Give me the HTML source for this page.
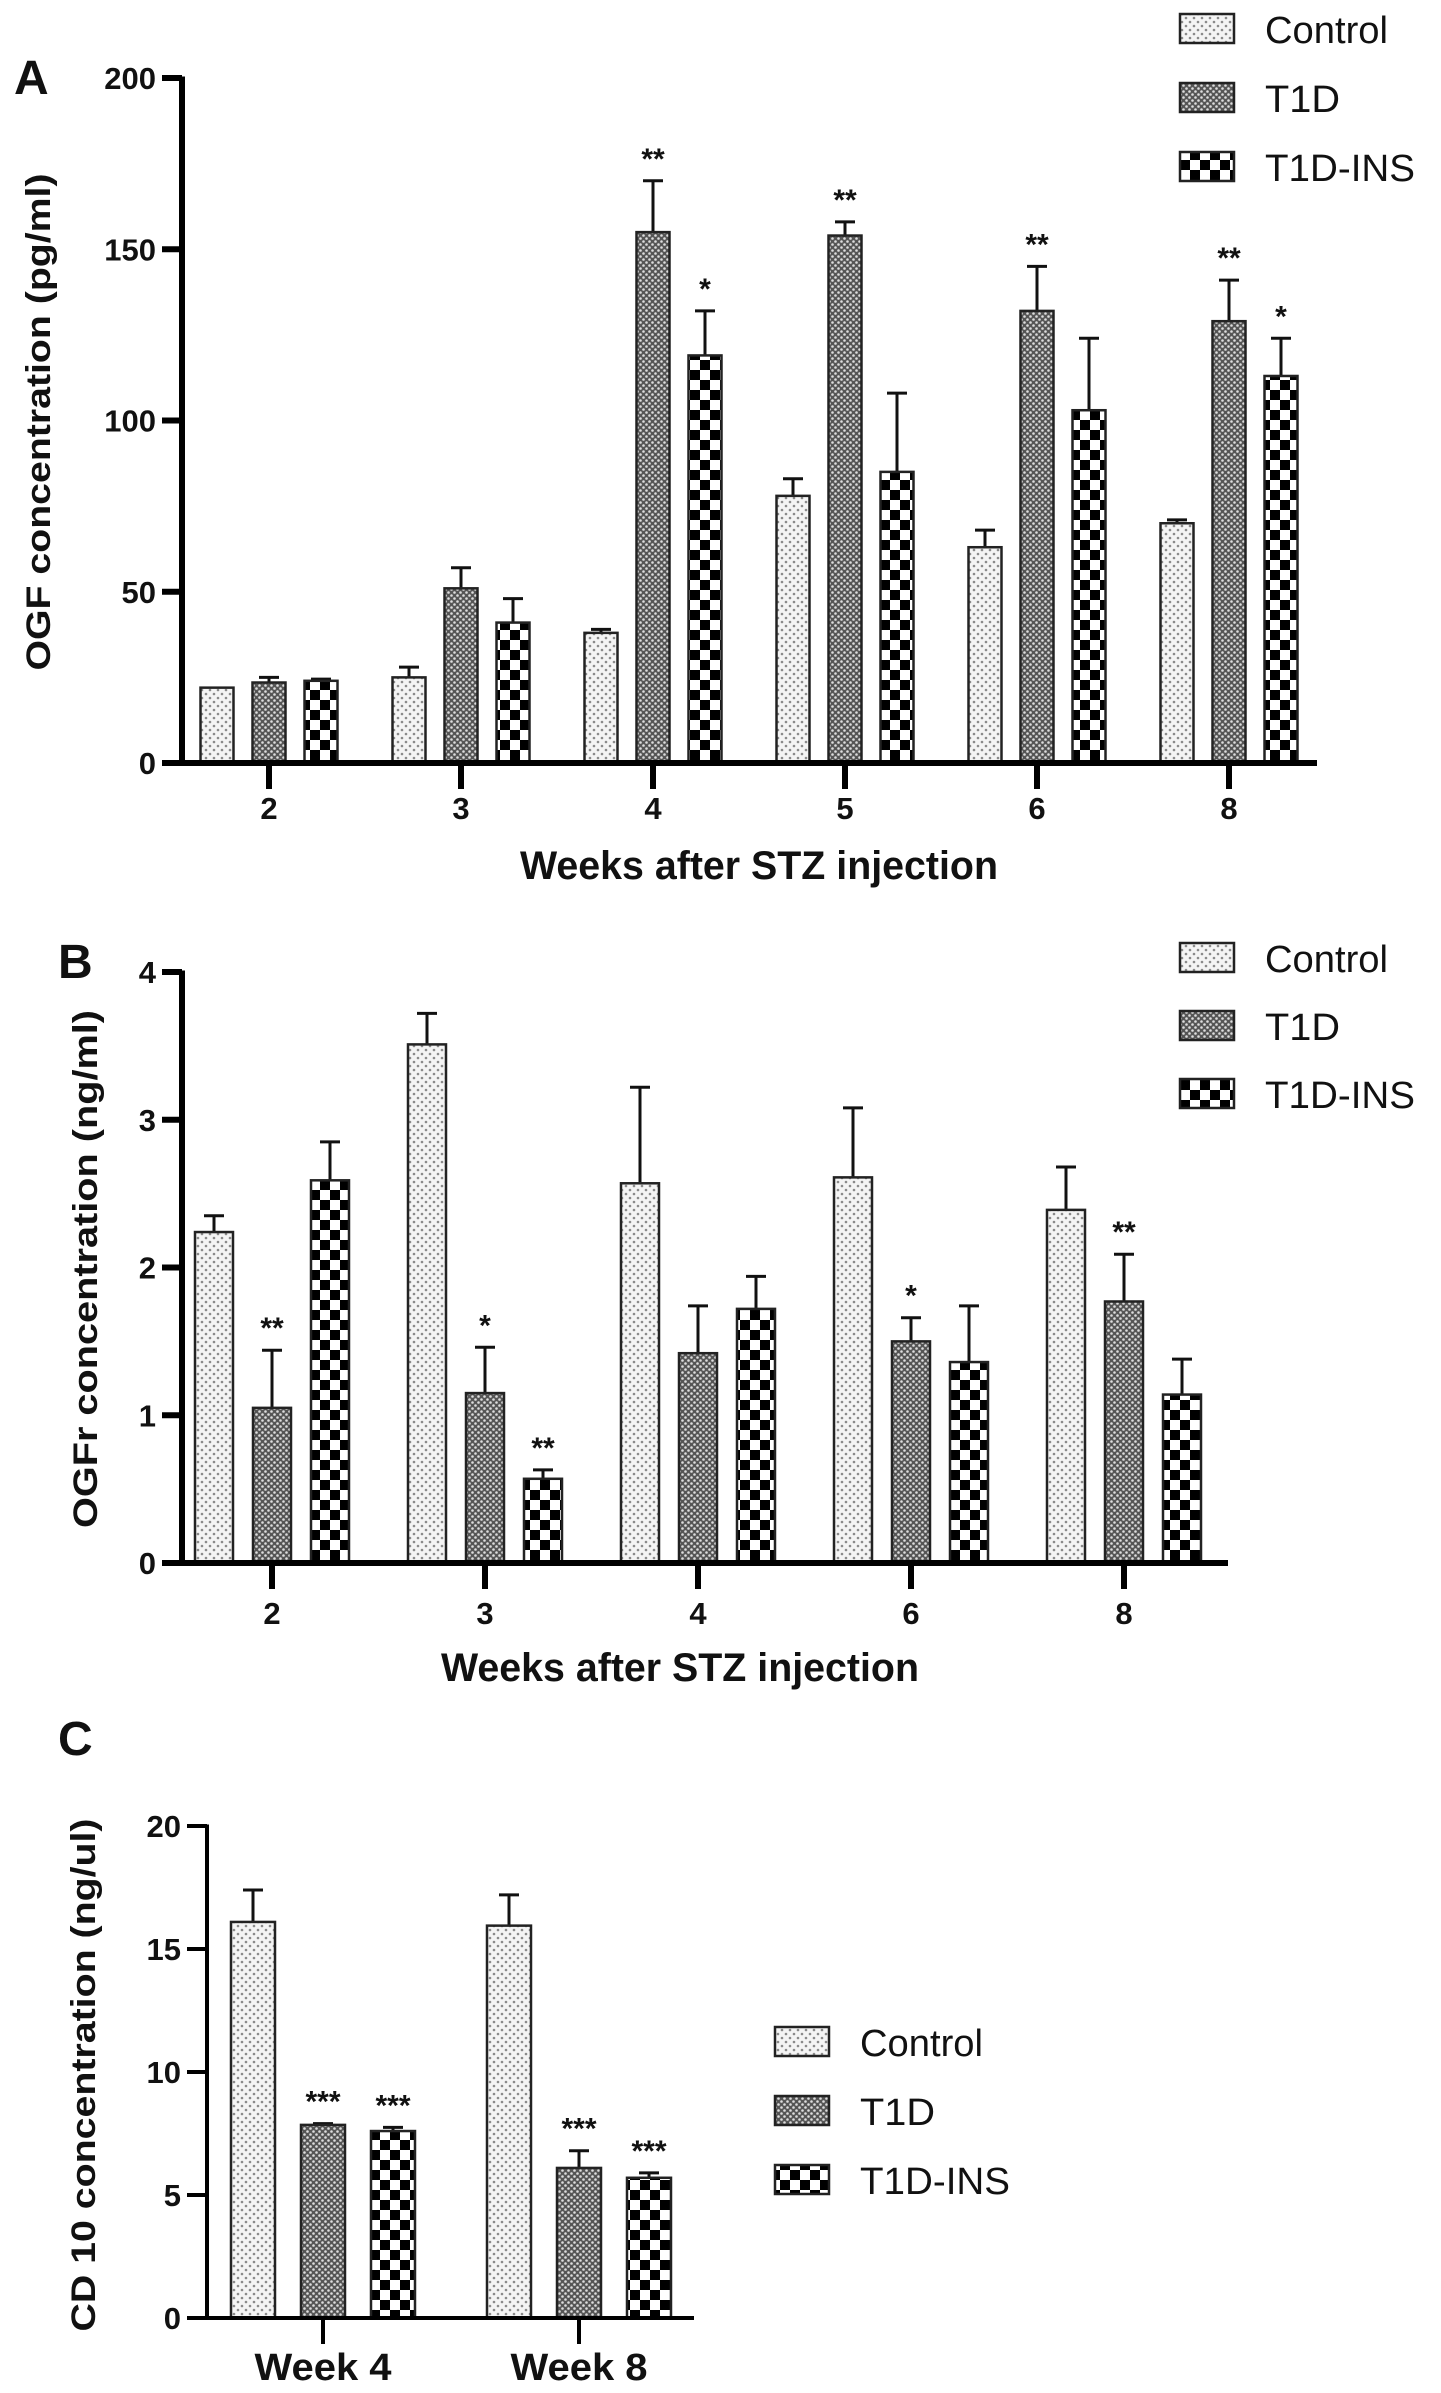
<!DOCTYPE html>
<html><head><meta charset="utf-8"><style>
html,body{margin:0;padding:0;background:#fff}
svg{display:block}
text{font-family:"Liberation Sans",Arial,sans-serif;fill:#111}
</style></head><body>
<svg id="fig" width="1441" height="2393" viewBox="0 0 1441 2393" xmlns="http://www.w3.org/2000/svg">
<defs>
<pattern id="pCtrl" width="8" height="8" patternUnits="userSpaceOnUse">
<rect width="8" height="8" fill="#f4f4f4"/><circle cx="2" cy="2" r="1.3" fill="#8a8a8a"/><circle cx="6" cy="6" r="1.3" fill="#8a8a8a"/></pattern>
<pattern id="pT1D" width="6" height="6" patternUnits="userSpaceOnUse">
<rect width="6" height="6" fill="#555"/><circle cx="1.5" cy="1.5" r="1.3" fill="#ddd"/><circle cx="4.5" cy="4.5" r="1.3" fill="#ddd"/></pattern>
<pattern id="pINS" width="20" height="20" patternUnits="userSpaceOnUse">
<rect width="20" height="20" fill="#fff"/><rect x="0" y="0" width="10" height="10" fill="#000"/><rect x="10" y="10" width="10" height="10" fill="#000"/></pattern>
</defs>
<g id="root"></g>
</svg>
<script>
// Panel A data
const aCats = ["2","3","4","5","6","8"];
const aCtrl = [22, 25, 38, 78, 63, 70];
const aCtrlErr = [0, 3, 1, 5, 5, 1];
const aT1D = [23.5, 51, 155, 154, 132, 129];
const aT1DErr = [1.5, 6, 15, 4, 13, 12];
const aINS = [24, 41, 119, 85, 103, 113];
const aINSErr = [0.5, 7, 13, 23, 21, 11];
const aT1DStars = ["", "", "**", "**", "**", "**"];
const aINSStars = ["", "", "*", "", "", "*"];
const aTicks = [0, 50, 100, 150, 200];
// Panel B data
const bCats = ["2","3","4","6","8"];
const bCtrl = [2.24, 3.51, 2.57, 2.61, 2.39];
const bCtrlErr = [0.11, 0.21, 0.65, 0.47, 0.29];
const bT1D = [1.05, 1.15, 1.42, 1.50, 1.77];
const bT1DErr = [0.39, 0.31, 0.32, 0.16, 0.32];
const bINS = [2.59, 0.57, 1.72, 1.36, 1.14];
const bINSErr = [0.26, 0.06, 0.22, 0.38, 0.24];
const bT1DStars = ["**", "*", "", "*", "**"];
const bINSStars = ["", "**", "", "", ""];
const bTicks = [0, 1, 2, 3, 4];
// Panel C data
const cCats = ["Week 4","Week 8"];
const cCtrl = [16.1, 15.95];
const cCtrlErr = [1.3, 1.25];
const cT1D = [7.85, 6.1];
const cT1DErr = [0.05, 0.7];
const cINS = [7.6, 5.7];
const cINSErr = [0.15, 0.2];
const cT1DStars = ["***", "***"];
const cINSStars = ["***", "***"];
const cTicks = [0, 5, 10, 15, 20];

const NS = "http://www.w3.org/2000/svg";
const root = document.getElementById("root");
function mk(tag, attrs, parent, txt){
  const e = document.createElementNS(NS, tag);
  for (const k in attrs) e.setAttribute(k, attrs[k]);
  if (txt !== undefined) e.textContent = txt;
  (parent || root).appendChild(e);
  return e;
}

function panel(cfg){
  const g = mk("g", {});
  
  
  const y = v => cfg.y0 - (v - 0) * (cfg.y0 - cfg.yTop) / cfg.yMax;
  const x = i => cfg.x0c + i * cfg.step;
  const L = mk("text", {x: cfg.letterX, y: cfg.letterY, "font-size": 48, "font-weight": "bold"}, g, cfg.letter);
  
  
  const yt = mk("text", {x: 0, y: 0, "font-size": 34, "font-weight": "bold", "text-anchor": "middle",
    textLength: cfg.yTitleLen, lengthAdjust: "spacingAndGlyphs",
    transform: `translate(${cfg.yTitleX},${cfg.yTitleY}) rotate(-90)`}, g, cfg.yTitle);
  
  
  const series = [
    {vals: cfg.ctrl, err: cfg.ctrlErr, fill: "url(#pCtrl)", off: -cfg.off, stars: null, n: "control"},
    {vals: cfg.t1d, err: cfg.t1dErr, fill: "url(#pT1D)", off: 0, stars: cfg.t1dStars, n: "t1d"},
    {vals: cfg.ins, err: cfg.insErr, fill: "url(#pINS)", off: cfg.off, stars: cfg.insStars, n: "t1d-ins"}
  ];
  series.forEach(s => {
    s.vals.forEach((v, i) => {
      const cx = x(i) + s.off, top = y(v), bw = cfg.bw;
      const et = y(v + s.err[i]);
      if (s.err[i] > 0) {
        const el = mk("line", {x1: cx, x2: cx, y1: top, y2: et, stroke: "#111", "stroke-width": 3}, g);
        
        
        const cap = mk("line", {x1: cx - 10, x2: cx + 10, y1: et, y2: et, stroke: "#111", "stroke-width": 3}, g);
        
        
      }
      const r = mk("rect", {x: cx - bw/2, y: top, width: bw, height: cfg.y0 - top, fill: s.fill, stroke: "#222", "stroke-width": 2.5}, g);
      
      
      if (s.stars && s.stars[i]) {
        const st = mk("text", {x: cx, y: et - 12, "font-size": 30, "font-weight": "bold", "text-anchor": "middle"}, g, s.stars[i]);
        
        
      }
    });
  });
  const ya = mk("line", {x1: cfg.axX, x2: cfg.axX, y1: cfg.yTop - 1.5, y2: cfg.y0, stroke: "#000", "stroke-width": cfg.axW}, g);
  
  
  const xa = mk("line", {x1: cfg.axX - 20, x2: cfg.xEnd, y1: cfg.y0, y2: cfg.y0, stroke: "#000", "stroke-width": cfg.axW}, g);
  
  
  cfg.ticks.forEach(t => {
    const ty = y(t);
    const tl = mk("line", {x1: cfg.axX - 20, x2: cfg.axX, y1: ty, y2: ty, stroke: "#000", "stroke-width": cfg.axW}, g);
    
    
    const lb = mk("text", {x: cfg.axX - 26, y: ty + 11, "font-size": 31, "font-weight": "bold", "text-anchor": "end"}, g, String(t));
    
    
  });
  cfg.cats.forEach((c, i) => {
    const tl = mk("line", {x1: x(i), x2: x(i), y1: cfg.y0, y2: cfg.y0 + 26, stroke: "#000", "stroke-width": cfg.axW}, g);
    
    
    const attrs = {x: x(i), y: cfg.xLabY, "font-size": cfg.xLabSize, "font-weight": "bold", "text-anchor": "middle"};
    if (cfg.xLabLen) { attrs.textLength = cfg.xLabLen; attrs.lengthAdjust = "spacingAndGlyphs"; }
    const lb = mk("text", attrs, g, c);
    
    
  });
  if (cfg.xTitle) {
    const xt = mk("text", {x: cfg.xTitleX, y: cfg.xTitleY, "font-size": 40, "font-weight": "bold", "text-anchor": "middle",
      textLength: 478, lengthAdjust: "spacingAndGlyphs"}, g, cfg.xTitle);
    
    
  }
  const names = ["Control","T1D","T1D-INS"], fills = ["url(#pCtrl)","url(#pT1D)","url(#pINS)"];
  const lg = mk("g", {}, g);
  
  
  names.forEach((n, k) => {
    const by = cfg.legY + k * cfg.legGap;
    const b = mk("rect", {x: cfg.legX, y: by, width: 54, height: 29, fill: fills[k], stroke: "#222", "stroke-width": 2.5}, lg);
    
    
    const tx = mk("text", {x: cfg.legX + 85, y: by + 29, "font-size": 38, textLength: [123, 75, 150][k], lengthAdjust: "spacingAndGlyphs"}, lg, n);
    
    
  });
}

panel({name: "panel-a-ogf-chart", letter: "A", letterX: 14, letterY: 94,
  cats: aCats, ctrl: aCtrl, ctrlErr: aCtrlErr, t1d: aT1D, t1dErr: aT1DErr, ins: aINS, insErr: aINSErr,
  t1dStars: aT1DStars, insStars: aINSStars, ticks: aTicks,
  yMax: 200, y0: 763, yTop: 78, x0c: 269, step: 192, off: 52, bw: 33,
  axX: 182, xEnd: 1317, axW: 6, xLabY: 819, xLabSize: 31,
  yTitle: "OGF concentration (pg/ml)", yTitleX: 50, yTitleY: 422, yTitleLen: 497,
  xTitle: "Weeks after STZ injection", xTitleX: 759, xTitleY: 879,
  legX: 1180, legY: 14, legGap: 69});

panel({name: "panel-b-ogfr-chart", letter: "B", letterX: 58, letterY: 978,
  cats: bCats, ctrl: bCtrl, ctrlErr: bCtrlErr, t1d: bT1D, t1dErr: bT1DErr, ins: bINS, insErr: bINSErr,
  t1dStars: bT1DStars, insStars: bINSStars, ticks: bTicks,
  yMax: 4, y0: 1563, yTop: 972, x0c: 272, step: 213, off: 58, bw: 38,
  axX: 182, xEnd: 1228, axW: 6, xLabY: 1624, xLabSize: 31,
  yTitle: "OGFr concentration (ng/ml)", yTitleX: 97, yTitleY: 1269, yTitleLen: 518,
  xTitle: "Weeks after STZ injection", xTitleX: 680, xTitleY: 1681,
  legX: 1180, legY: 943, legGap: 68});

panel({name: "panel-c-cd10-chart", letter: "C", letterX: 58, letterY: 1755,
  cats: cCats, ctrl: cCtrl, ctrlErr: cCtrlErr, t1d: cT1D, t1dErr: cT1DErr, ins: cINS, insErr: cINSErr,
  t1dStars: cT1DStars, insStars: cINSStars, ticks: cTicks,
  yMax: 20, y0: 2318, yTop: 1826, x0c: 323, step: 256, off: 70, bw: 44,
  axX: 207, xEnd: 694, axW: 4, xLabY: 2380, xLabSize: 38, xLabLen: 137,
  yTitle: "CD 10 concentration (ng/ul)", yTitleX: 95, yTitleY: 2075, yTitleLen: 513,
  xTitle: null,
  legX: 775, legY: 2027, legGap: 69});
</script>
</body></html>
